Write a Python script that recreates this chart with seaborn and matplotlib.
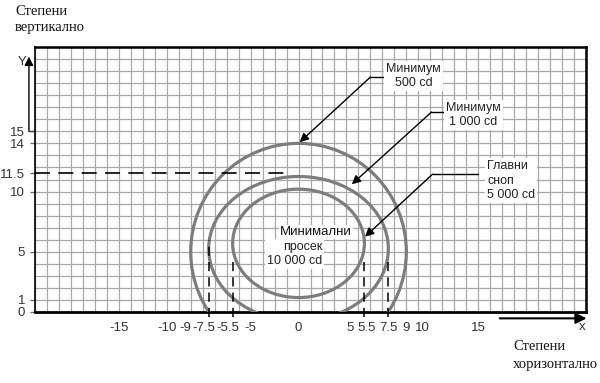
import numpy as np
import pandas as pd
import matplotlib
matplotlib.use("Agg")
import matplotlib.pyplot as plt
from matplotlib.patches import Ellipse
from matplotlib.ticker import MultipleLocator
from matplotlib.transforms import ScaledTranslation
import seaborn as sns

# Isocandela curves (degrees): centre and semi-axes
curve_names = ["500 cd", "1 000 cd", "5 000 cd"]
curve_cx = [0.0, 0.0, 0.0]
curve_cy = [5.0, 5.25, 5.7]
curve_half_w = [9.0, 7.5, 5.5]
curve_half_h = [9.0, 6.0, 4.5]

# dashed guides
guide_x = [-7.5, -5.5, 5.5, 7.5]
guide_top = [6.0, 4.6, 4.6, 4.6]
level_y = 11.5

# ticks
xtick_pos = [-15, -10, -9, -7.5, -5.5, -5, 0, 5, 5.5, 7.5, 9, 10, 15]
xtick_txt = ["-15", "-10", "-9", "-7.5", "-5.5", "-5",
             "0", "5", "5.5", "7.5", "9", "10", "15"]
xtick_shift = [0, -12, -5, -5, -5, 12, 0, -8, 2, 0, 0, 4, 0]  # px nudge like the original
ytick_pos = [0, 1, 5, 10, 11.5, 14, 15]
ytick_txt = ["0", "1", "5", "10", "11.5", "14", "15"]

sns.set_theme(style="white")
plt.rcParams["font.family"] = ["Liberation Sans", "DejaVu Sans"]

fig = plt.figure(figsize=(6, 3.83), dpi=100)
ax = fig.add_axes([35 / 600, 71 / 383, 551 / 600, 265 / 383])
ax.set_xlim(-22, 24)
ax.set_ylim(0, 22)

# grid every degree
ax.xaxis.set_minor_locator(MultipleLocator(1))
ax.yaxis.set_minor_locator(MultipleLocator(1))
ax.xaxis.remove_overlapping_locs = False
ax.yaxis.remove_overlapping_locs = False
ax.grid(which="minor", color="#a8a8a8", lw=0.9)
ax.grid(which="major", visible=False)
ax.set_axisbelow(True)

ax.set_xticks(xtick_pos, xtick_txt)
ax.set_yticks(ytick_pos, ytick_txt)
ax.tick_params(axis="x", which="both", length=0, pad=7, labelsize=9.5, labelcolor="#333333")
ax.tick_params(axis="y", which="major", length=3.5, width=0.9, color="#666666",
               pad=3.5, labelsize=9.5, labelcolor="#333333", left=True)
ax.tick_params(axis="y", which="minor", length=0)
for lab, dx in zip(ax.get_xticklabels(), xtick_shift):
    lab.set_transform(lab.get_transform() + ScaledTranslation(dx / 100, 0, fig.dpi_scale_trans))

for side, w in [("top", 1.8), ("right", 1.8), ("bottom", 2.0), ("left", 1.2)]:
    ax.spines[side].set_visible(True)
    ax.spines[side].set_color("black")
    ax.spines[side].set_linewidth(w)

# curves
for cx, cy, hw, hh in zip(curve_cx, curve_cy, curve_half_w, curve_half_h):
    ax.add_patch(Ellipse((cx, cy), 2 * hw, 2 * hh, fill=False, edgecolor="#7d7d7d", lw=2.3, zorder=3))

# dashed guides
ax.vlines(guide_x, -0.45, guide_top, colors="black", linestyles=(0, (6, 4)), lw=1.1,
          clip_on=False, zorder=4)
ax.hlines(level_y, -22, -0.8, colors="black", linestyles=(0, (9, 5)), lw=1.2, zorder=4)

# annotations
txt_kw = dict(fontsize=9, color="#222222", linespacing=1.25, zorder=6,
              bbox=dict(facecolor="white", edgecolor="none", pad=1.5))
arr_kw = dict(arrowstyle="-|>", color="black", lw=1.0, mutation_scale=13, shrinkA=0, shrinkB=0)

ax.text(9.6, 19.6, "Минимум\n500 cd", ha="center", va="center", **txt_kw)
ax.plot([7.5, 6.0], [19.5, 19.5], color="black", lw=1.0, zorder=5)
ax.annotate("", xy=(0.1, 14.1), xytext=(6.0, 19.5), arrowprops=arr_kw, zorder=5)

ax.text(14.6, 16.35, "Минимум\n1 000 cd", ha="center", va="center", **txt_kw)
ax.plot([12.5, 11.1], [16.6, 16.6], color="black", lw=1.0, zorder=5)
ax.annotate("", xy=(4.45, 10.6), xytext=(11.1, 16.6), arrowprops=arr_kw, zorder=5)

ax.text(15.75, 10.9, "Главни\nсноп\n5 000 cd", ha="left", va="center", **txt_kw)
ax.plot([15.0, 11.2], [11.45, 11.45], color="black", lw=1.0, zorder=5)
ax.annotate("", xy=(5.55, 6.25), xytext=(11.2, 11.45), arrowprops=arr_kw, zorder=5)

ax.text(1.46, 6.64, "Минимални", ha="center", va="center", fontsize=9.5, color="#111111",
        zorder=6, bbox=dict(facecolor="white", edgecolor="none", pad=0.5))
ax.text(1.96, 4.8, "просек\n10 000 cd", ha="right", va="center", multialignment="right",
        **txt_kw)

# axis arrows
ytr = ax.get_yaxis_transform()
xtr = ax.get_xaxis_transform()
ax.plot([-0.011, 0], [15, 15], transform=ytr, clip_on=False, color="#444444", lw=1.0)
ax.annotate("", xy=(-0.011, 21.2), xytext=(-0.011, 15), xycoords=ytr, textcoords=ytr,
            arrowprops=dict(arrowstyle="-|>", color="black", lw=1.0, mutation_scale=13,
                            shrinkA=0, shrinkB=0), annotation_clip=False)
ax.annotate("", xy=(24.05, -0.024), xytext=(16.8, -0.024), xycoords=xtr, textcoords=xtr,
            arrowprops=dict(arrowstyle="-|>", color="black", lw=1.5, mutation_scale=16,
                            shrinkA=0, shrinkB=0), annotation_clip=False)
fig.text(22 / 600, 1 - 62 / 383, "Y", fontsize=9.5, color="#333333", ha="center", va="center")
fig.text(582 / 600, 1 - 327 / 383, "x", fontsize=9.5, color="#333333", ha="center", va="center")

serif = ["Liberation Serif", "DejaVu Serif"]
fig.text(15 / 600, 1 - 5 / 383, "Степени\nвертикално", family=serif, fontsize=10.5,
         color="#111111", ha="left", va="top", linespacing=1.25)
fig.text(513 / 600, 1 - 340 / 383, "Степени\nхоризонтално", family=serif, fontsize=10.5,
         color="#111111", ha="left", va="top", linespacing=1.5)

fig.savefig("out.png", dpi=100)
